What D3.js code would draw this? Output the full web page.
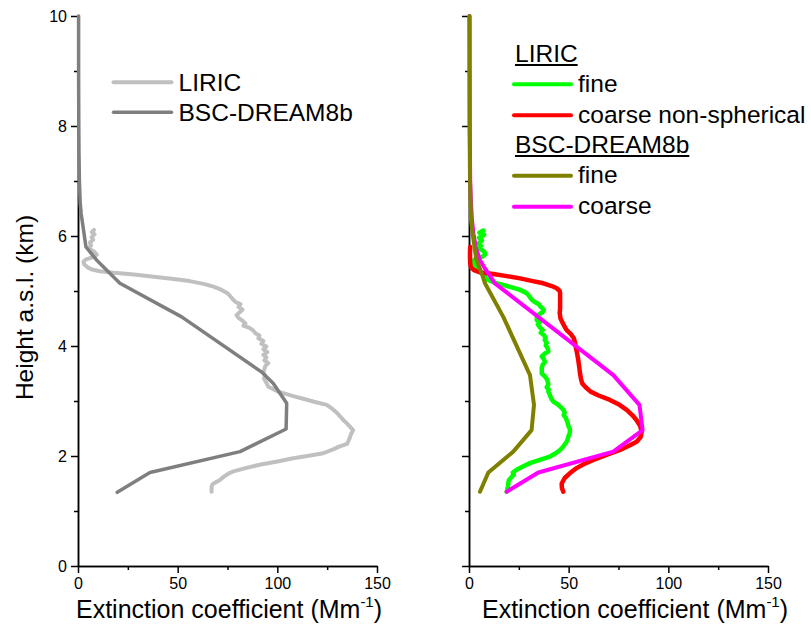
<!DOCTYPE html>
<html>
<head>
<meta charset="utf-8">
<script src="https://cdn.jsdelivr.net/npm/d3@7"></script>
<style>
  html, body { margin: 0; padding: 0; background: #fff; }
  svg { display: block; font-family: Arial, "Liberation Sans", sans-serif; }
</style>
</head>
<body>
<svg id="chart" width="811" height="633"></svg>
<script>
// Profiles as [height a.s.l. (km), extinction coefficient (Mm-1)]

// Left panel: total extinction
const liricTotal = [
  [6.11, 8.0], [6.07, 7.0], [6.03, 8.3], [5.98, 6.8], [5.93, 7.6], [5.88, 6.0], [5.83, 6.6],
  [5.78, 5.2], [5.72, 8.0], [5.66, 9.4], [5.61, 7.0], [5.57, 3.8], [5.53, 2.7], [5.48, 3.2],
  [5.43, 4.8], [5.39, 7.0], [5.36, 11], [5.33, 18], [5.30, 28], [5.26, 38], [5.22, 48],
  [5.18, 56], [5.13, 63], [5.08, 68], [5.02, 72], [4.96, 75], [4.90, 76.5], [4.84, 78],
  [4.80, 79], [4.76, 81.5], [4.71, 80.5], [4.66, 82.5], [4.61, 81], [4.56, 79.5], [4.51, 80.5],
  [4.46, 82.5], [4.41, 84], [4.37, 83], [4.33, 86], [4.28, 88], [4.23, 89], [4.19, 91],
  [4.14, 90.5], [4.09, 93], [4.04, 92], [3.99, 94.5], [3.94, 93], [3.89, 95], [3.84, 93],
  [3.79, 94.5], [3.74, 93.5], [3.69, 95.5], [3.64, 94], [3.58, 93.5], [3.52, 93], [3.46, 93.8],
  [3.41, 93.3], [3.33, 94.5], [3.26, 95.5], [3.17, 100.5], [3.09, 108], [3.04, 113], [2.99, 118],
  [2.93, 124.8], [2.86, 127.5], [2.78, 130], [2.70, 132], [2.64, 133.5], [2.59, 135], [2.53, 136.5],
  [2.47, 138], [2.40, 137], [2.30, 136], [2.22, 135], [2.17, 131], [2.12, 128], [2.05, 123],
  [2.00, 115], [1.96, 108], [1.90, 100], [1.84, 91], [1.78, 84], [1.72, 78], [1.69, 76],
  [1.62, 73], [1.56, 71], [1.49, 67.6], [1.44, 67], [1.35, 67]
];

const dreamTotal = [
  [10, 0.3], [9, 0.3], [8, 0.4], [7.5, 0.5], [7.0, 0.7], [6.6, 1.1], [6.4, 1.6], [5.8, 4.0],
  [5.56, 9.4], [5.14, 21], [4.53, 52], [3.53, 92], [3.32, 98], [2.96, 104.7], [2.49, 104.4],
  [2.08, 81.3], [1.70, 36.1], [1.34, 19.7]
];

// Right panel: fine / coarse components
const liricFine = [
  [6.10, 7.2], [6.06, 5.2], [6.02, 7.6], [5.97, 5.0], [5.92, 6.5], [5.87, 4.8], [5.82, 6.0],
  [5.77, 5.2], [5.72, 7.6], [5.67, 8.2], [5.62, 6.5], [5.58, 3.0], [5.54, 2.0], [5.49, 2.5],
  [5.44, 3.5], [5.38, 5.0], [5.32, 6.5], [5.26, 8.0], [5.20, 9.5], [5.15, 13], [5.11, 17],
  [5.07, 21], [5.03, 25], [4.98, 28], [4.94, 29.5], [4.89, 30.5], [4.84, 31.5], [4.80, 33],
  [4.76, 35], [4.71, 36], [4.66, 37.5], [4.62, 37], [4.57, 35], [4.52, 34], [4.47, 34],
  [4.43, 35.5], [4.39, 34.5], [4.34, 35.5], [4.29, 37], [4.24, 36], [4.20, 37.5], [4.15, 38.5],
  [4.11, 38], [4.06, 39], [4.01, 38.5], [3.96, 39.5], [3.90, 39.8], [3.86, 38], [3.81, 36.5],
  [3.76, 37.5], [3.71, 38.1], [3.66, 37], [3.61, 36.5], [3.55, 36.5], [3.50, 36.5], [3.45, 38],
  [3.40, 39], [3.35, 39.5], [3.30, 39.8], [3.25, 39], [3.21, 40], [3.17, 39.8], [3.12, 40.5],
  [3.07, 41], [3.03, 41.5], [2.99, 42.3], [2.94, 44.5], [2.89, 46], [2.84, 47.3], [2.79, 48],
  [2.74, 47.5], [2.70, 48.5], [2.65, 49], [2.60, 49.5], [2.55, 49.8], [2.50, 50.5], [2.47, 50.7],
  [2.42, 50.5], [2.37, 50], [2.31, 49.5], [2.26, 49], [2.21, 48], [2.16, 47], [2.11, 45.7],
  [2.05, 43.5], [1.99, 40.6], [1.93, 35.5], [1.87, 30.6], [1.81, 27], [1.75, 23.9], [1.70, 22],
  [1.66, 22.5], [1.62, 21.4], [1.56, 20], [1.50, 19.7], [1.44, 19.5], [1.39, 19.2], [1.35, 18.9]
];

const liricCoarse = [
  [5.80, 0.6], [5.70, 0.5], [5.60, 0.5], [5.50, 0.6], [5.43, 1.0], [5.38, 2.5], [5.34, 5.5],
  [5.31, 12.2], [5.27, 19], [5.23, 25.6], [5.18, 32], [5.14, 37.3], [5.09, 41.5], [5.05, 44],
  [5.00, 45.5], [4.96, 45.7], [4.85, 45.7], [4.75, 45.7], [4.68, 45.7], [4.60, 45.5], [4.50, 45.9],
  [4.42, 47], [4.35, 48], [4.29, 49], [4.22, 51], [4.14, 52.6], [4.06, 53.2], [3.99, 53.5],
  [3.87, 54.2], [3.75, 54.8], [3.62, 55.3], [3.50, 55.7], [3.40, 56.2], [3.32, 56.8], [3.25, 58.5],
  [3.17, 61], [3.10, 65], [3.02, 70.7], [2.93, 75.5], [2.84, 79.1], [2.74, 82], [2.65, 84.1],
  [2.55, 85.8], [2.44, 86.6], [2.35, 86.2], [2.26, 84.1], [2.19, 80.5], [2.11, 75.8], [2.02, 69],
  [1.93, 62.4], [1.85, 57.5], [1.77, 53.5], [1.69, 50.7], [1.60, 48], [1.50, 46.5], [1.42, 46.6],
  [1.35, 47.3]
];

const dreamFine = [
  [10, 0.2], [8, 0.3], [7, 0.5], [6.6, 0.8], [6.29, 1.0], [6.0, 2.0], [5.78, 2.8], [5.56, 3.8],
  [5.32, 6.4], [5.14, 8], [4.53, 17.2], [3.47, 30.6], [2.93, 32.6], [2.47, 31.4], [2.08, 22.2],
  [1.70, 9.7], [1.35, 5.5]
];

const dreamCoarse = [
  [10, 0.3], [8, 0.4], [7, 0.6], [6.6, 1.0], [6.29, 1.5], [6.05, 2.2], [5.78, 3.5], [5.56, 5.5],
  [5.41, 8], [5.14, 13], [3.47, 72.4], [2.93, 85.5], [2.47, 87.1], [2.08, 72.4], [1.70, 34.8],
  [1.35, 18.9]
];

// Axis ticks
const heightMajorTicks = [0, 2, 4, 6, 8, 10];
const heightMinorTicks = [1, 3, 5, 7, 9];
const extMajorTicks = [0, 50, 100, 150];
const extMinorTicks = [25, 75, 125];

// Legend entries
const leftLegendLabels = ["LIRIC", "BSC-DREAM8b"];
const rightLegendGroups = ["LIRIC", "BSC-DREAM8b"];
const rightLegendLabels = [["fine", "coarse non-spherical"], ["fine", "coarse"]];

const colors = {
  liricTotal: "#c0c0c0",
  dreamTotal: "#7f7f7f",
  liricFine: "#00ff00",
  liricCoarse: "#ff0000",
  dreamFine: "#808000",
  dreamCoarse: "#ff00ff"
};

const svg = d3.select("#chart");
const FONT = 'Arial, "Liberation Sans", sans-serif';

const y = d3.scaleLinear().domain([0, 10]).range([566, 16]);
const xLeft = d3.scaleLinear().domain([0, 150]).range([78, 377]);
const xRight = d3.scaleLinear().domain([0, 150]).range([469, 768]);

function drawAxes(x, showHeightLabels) {
  const g = svg.append("g");
  const x0 = x.range()[0];

  // height axis
  const yMajor = d3.axisLeft(y).tickValues(heightMajorTicks).tickSize(7).tickSizeOuter(0).tickPadding(4)
    .tickFormat(showHeightLabels ? d3.format("d") : () => "");
  const yMinor = d3.axisLeft(y).tickValues(heightMinorTicks).tickSize(4).tickSizeOuter(0).tickFormat(() => "");
  g.append("g").attr("transform", `translate(${x0},0)`).call(yMajor);
  g.append("g").attr("transform", `translate(${x0},0)`).call(yMinor);

  // extinction axis
  const xMajor = d3.axisBottom(x).tickValues(extMajorTicks).tickSize(7).tickSizeOuter(0).tickPadding(5)
    .tickFormat(d3.format("d"));
  const xMinor = d3.axisBottom(x).tickValues(extMinorTicks).tickSize(4).tickSizeOuter(0).tickFormat(() => "");
  g.append("g").attr("transform", `translate(0,${y(0)})`).call(xMajor);
  g.append("g").attr("transform", `translate(0,${y(0)})`).call(xMinor);

  g.selectAll(".domain, .tick line").attr("stroke", "#000").attr("stroke-width", 1.5);
  g.selectAll(".tick text").attr("font-family", FONT).attr("font-size", 16).attr("fill", "#000");
  return g;
}

function drawProfile(x, data, color, width) {
  const line = d3.line().x(d => x(d[1])).y(d => y(d[0]));
  svg.append("path")
    .datum(data)
    .attr("d", line)
    .attr("fill", "none")
    .attr("stroke", color)
    .attr("stroke-width", width)
    .attr("stroke-linejoin", "round")
    .attr("stroke-linecap", "round");
}

function xTitle(xStart) {
  const t = svg.append("text")
    .attr("x", xStart).attr("y", 618)
    .attr("font-family", FONT).attr("font-size", 25).attr("fill", "#000");
  t.append("tspan").text("Extinction coefficient (Mm");
  t.append("tspan").attr("font-size", 15).attr("dy", -11).text("-1");
  t.append("tspan").attr("dy", 11).text(")");
}

// Axes
drawAxes(xLeft, true);
drawAxes(xRight, false);

// Left panel profiles
drawProfile(xLeft, liricTotal, colors.liricTotal, 4);
drawProfile(xLeft, dreamTotal, colors.dreamTotal, 3.5);

// Right panel profiles
drawProfile(xRight, liricFine, colors.liricFine, 4.5);
drawProfile(xRight, liricCoarse, colors.liricCoarse, 4.5);
drawProfile(xRight, dreamCoarse, colors.dreamCoarse, 4);
drawProfile(xRight, dreamFine, colors.dreamFine, 4);

// Axis titles
svg.append("text")
  .attr("transform", "translate(33,307.5) rotate(-90)")
  .attr("text-anchor", "middle")
  .attr("font-family", FONT).attr("font-size", 24.5).attr("fill", "#000")
  .text("Height a.s.l. (km)");
xTitle(76);
xTitle(482);

// Left legend
const leftLegendColors = [colors.liricTotal, colors.dreamTotal];
const leftLegendWidths = [4, 3.5];
leftLegendLabels.forEach((label, i) => {
  const ly = 82.3 + i * 30;
  svg.append("line").attr("x1", 113.5).attr("x2", 171.5).attr("y1", ly).attr("y2", ly)
    .attr("stroke", leftLegendColors[i]).attr("stroke-width", leftLegendWidths[i]).attr("stroke-linecap", "round");
  svg.append("text").attr("x", 178.5).attr("y", ly + 8.4)
    .attr("font-family", FONT).attr("font-size", 24.5).attr("fill", "#000").text(label);
});

// Right legend
const rightLegendColors = [[colors.liricFine, colors.liricCoarse], [colors.dreamFine, colors.dreamCoarse]];
const groupBaselines = [62, 153];
const entryLines = [[84.3, 115.2], [175.7, 206.7]];
rightLegendGroups.forEach((group, gi) => {
  const head = svg.append("text").attr("x", 515).attr("y", groupBaselines[gi])
    .attr("font-family", FONT).attr("font-size", 24.5).attr("fill", "#000").text(group);
  const w = head.node().getComputedTextLength();
  svg.append("line").attr("x1", 515).attr("x2", 515 + w)
    .attr("y1", groupBaselines[gi] + 3).attr("y2", groupBaselines[gi] + 3)
    .attr("stroke", "#000").attr("stroke-width", 2);
  rightLegendLabels[gi].forEach((label, i) => {
    const ly = entryLines[gi][i];
    svg.append("line").attr("x1", 514).attr("x2", 571).attr("y1", ly).attr("y2", ly)
      .attr("stroke", rightLegendColors[gi][i]).attr("stroke-width", 4).attr("stroke-linecap", "round");
    svg.append("text").attr("x", 578).attr("y", ly + 7.5)
      .attr("font-family", FONT).attr("font-size", 24.5).attr("fill", "#000").text(label);
  });
});
</script>
</body>
</html>
